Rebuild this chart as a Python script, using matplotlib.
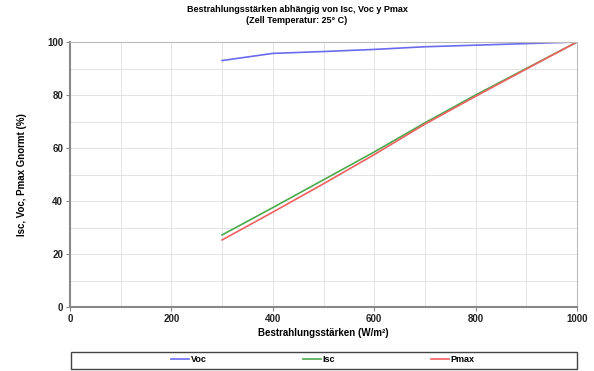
import matplotlib.pyplot as plt
from matplotlib.patches import Rectangle
from matplotlib.ticker import MultipleLocator

plt.rcParams['font.family'] = ['Liberation Sans', 'DejaVu Sans']

# Bestrahlungsstärke (W/m²)
irradiance = [300, 400, 500, 600, 700, 800, 900, 1000]
voc = [93.0, 95.7, 96.4, 97.2, 98.2, 98.8, 99.4, 100.0]
isc = [27.2, 37.5, 48.0, 58.5, 69.5, 80.0, 90.0, 100.0]
pmax = [25.3, 35.8, 46.5, 57.5, 69.0, 79.5, 89.8, 100.0]

fig = plt.figure(figsize=(5.94, 3.71), dpi=100)
ax = fig.add_axes([70 / 594, 1 - 307 / 371, 507 / 594, 265 / 371])

ax.plot(irradiance, voc, color='#6b6bf0', lw=1.2, label='Voc')
ax.plot(irradiance, isc, color='#4caa4c', lw=1.2, label='Isc')
ax.plot(irradiance, pmax, color='#f06060', lw=1.2, label='Pmax')

ax.set_xlim(0, 1000)
ax.set_ylim(0, 100)
ax.xaxis.set_major_locator(MultipleLocator(200))
ax.xaxis.set_minor_locator(MultipleLocator(100))
ax.yaxis.set_major_locator(MultipleLocator(20))
ax.yaxis.set_minor_locator(MultipleLocator(10))
ax.grid(True, which='both', color='#e3e3e3', lw=0.7)
ax.set_axisbelow(True)

for side in ['top', 'right']:
    ax.spines[side].set_color('#bbbbbb')
    ax.spines[side].set_linewidth(0.8)
for side in ['left', 'bottom']:
    ax.spines[side].set_color('#888888')
    ax.spines[side].set_linewidth(1.5)

ax.tick_params(which='major', labelsize=7, length=3, pad=2, color='#888888', labelcolor='#222222')
ax.tick_params(which='minor', length=0)
for lbl in ax.get_xticklabels() + ax.get_yticklabels():
    lbl.set_fontweight('bold')

ax.set_xlabel('Bestrahlungsstärken (W/m²)', fontsize=7, fontweight='bold', labelpad=3)
ax.set_ylabel('Isc, Voc, Pmax Gnormt (%)', fontsize=7, fontweight='bold', labelpad=14)

fig.text(0.5, 1 - 15 / 371, 'Bestrahlungsstärken abhängig von Isc, Voc y Pmax\n(Zell Temperatur: 25° C)',
         ha='center', va='center', fontsize=6.5, fontweight='bold', linespacing=1.15)

# legend frame spans the plot width, entries spread inside it
fig.patches.append(Rectangle((71 / 594, 1 - 369 / 371), 506 / 594, 17 / 371,
                             transform=fig.transFigure, fill=False,
                             edgecolor='#444444', lw=1.0))
leg = fig.legend(loc='center', bbox_to_anchor=(323 / 594, 1 - 360 / 371),
                 ncol=3, fontsize=6.5, frameon=False,
                 handlelength=2, handletextpad=0.2, columnspacing=10.6)
for t in leg.get_texts():
    t.set_fontweight('bold')

fig.savefig('out.png', dpi=100)
